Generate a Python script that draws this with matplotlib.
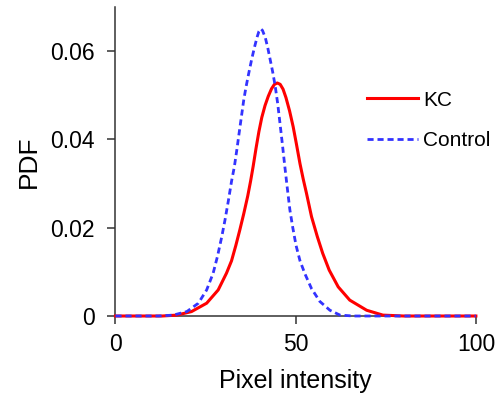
#!/usr/bin/env python3
# -*- coding: utf-8 -*-
"""PDF of pixel intensity, KC vs Control."""

import matplotlib
matplotlib.use("Agg")
import matplotlib.pyplot as plt

# values
kc_x = [0, 13, 17.0, 21.1, 25.3, 28.5, 30.8, 32.2, 33.4, 34.5, 35.6, 36.7,
        37.5, 38.2, 39.0, 39.8, 40.6, 41.5, 42.4, 43.3, 44.1, 44.9, 45.7,
        46.5, 47.3, 48.3, 49.3, 50.2, 51.2, 52.1, 53.0, 54.4, 56.0, 57.5,
        59.3, 61.8, 65.0, 69.7, 74.2, 80, 100]
kc_y = [0, 0, 0.0002, 0.0010, 0.0029, 0.0059, 0.0097, 0.0125, 0.0160, 0.0195,
        0.0232, 0.0272, 0.0306, 0.0339, 0.0380, 0.0418, 0.0450, 0.0477,
        0.0498, 0.0515, 0.0525, 0.0528, 0.0525, 0.0514, 0.0495, 0.0465,
        0.0429, 0.0390, 0.0345, 0.0310, 0.0278, 0.0225, 0.0180, 0.0142,
        0.0104, 0.0066, 0.0036, 0.0013, 0.0002, 0, 0]

ctrl_x = [0, 12, 16.0, 19.8, 23.0, 25.3, 27.1, 28.3, 29.5, 30.4, 31.3, 32.2,
          33.0, 33.7, 34.3, 35.0, 35.6, 36.2, 36.9, 37.8, 38.6, 39.3, 39.8,
          40.3, 40.8, 41.6, 42.3, 42.9, 43.6, 44.3, 45.0, 45.6, 46.3, 47.0,
          47.7, 48.4, 49.2, 50.1, 51.2, 52.6, 54.4, 56.7, 59.5, 62.3, 66, 100]
ctrl_y = [0, 0, 0.0002, 0.0010, 0.0029, 0.0059, 0.0097, 0.0135, 0.0180,
          0.0218, 0.0260, 0.0305, 0.0339, 0.0378, 0.0414, 0.0455, 0.0490,
          0.0518, 0.0547, 0.0582, 0.0610, 0.0632, 0.0645, 0.0651, 0.0647,
          0.0630, 0.0606, 0.0582, 0.0554, 0.0522, 0.0482, 0.0440, 0.0390,
          0.0338, 0.0288, 0.0240, 0.0200, 0.0160, 0.0125, 0.0095, 0.0062,
          0.0033, 0.0013, 0.0002, 0, 0]

x_ticks = [0, 50, 100]
y_ticks = [0, 0.02, 0.04, 0.06]
y_ticklabels = ["0", "0.02", "0.04", "0.06"]

plt.rcParams["font.family"] = ["Liberation Sans", "DejaVu Sans"]

fig = plt.figure(figsize=(5.02, 3.95), dpi=100)
ax = fig.add_axes([0.230, 0.200, 0.718, 0.782])

ax.plot(kc_x, kc_y, color="#ff0000", linewidth=2.2, label="KC",
        clip_on=False, zorder=3)
ax.plot(ctrl_x, ctrl_y, color="#3333ff", linewidth=2.0,
        linestyle=(0, (2.2, 1.4)), label="Control", clip_on=False, zorder=4)

ax.set_xlim(0, 100)
ax.set_ylim(0, 0.07)
ax.set_xticks(x_ticks)
ax.set_yticks(y_ticks)
ax.set_yticklabels(y_ticklabels)

for side in ("top", "right"):
    ax.spines[side].set_visible(False)
for side in ("left", "bottom"):
    ax.spines[side].set_color("#333333")
    ax.spines[side].set_linewidth(1.1)

ax.tick_params(direction="out", length=5.5, width=1.1, color="#333333",
               labelsize=16.5)
ax.tick_params(axis="x", pad=6.5)
ax.tick_params(axis="y", pad=9.3)

ax.set_xlabel("Pixel intensity", fontsize=18, labelpad=9.5)
ax.set_ylabel("PDF", fontsize=19, labelpad=7)

ax.legend(loc="upper left", bbox_to_anchor=(0.697, 0.730), frameon=False,
          fontsize=15, handlelength=2.45, handletextpad=0.25,
          labelspacing=1.05, borderpad=0, borderaxespad=0)

fig.savefig("out.png", dpi=100)
plt.close(fig)
